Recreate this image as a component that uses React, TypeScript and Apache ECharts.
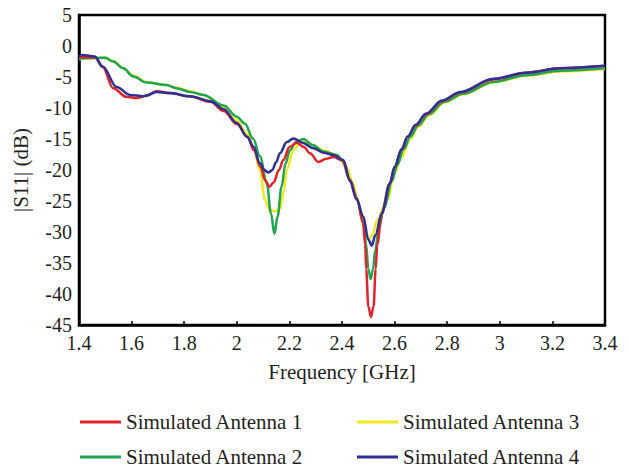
import React, { useEffect, useRef } from "react";
import * as echarts from "echarts";

// Frequency axis (GHz) and |S11| axis (dB)
const X_MIN = 1.4;
const X_MAX = 3.4;
const X_STEP = 0.2;
const Y_MIN = -45;
const Y_MAX = 5;
const Y_STEP = 5;

const names = [
  "Simulated Antenna 1",
  "Simulated Antenna 2",
  "Simulated Antenna 3",
  "Simulated Antenna 4",
];

// [frequency GHz, |S11| dB]
const antenna1: number[][] = [
  [1.40, -1.8], [1.46, -1.8], [1.49, -3.4], [1.53, -6.8], [1.58, -8.2], [1.62, -8.4],
  [1.66, -8.0], [1.695, -7.3], [1.75, -7.6], [1.82, -8.1], [1.90, -9.0], [1.95, -10.5],
  [2.00, -12.6], [2.04, -14.6], [2.065, -16.8], [2.09, -19.5], [2.107, -21.6], [2.124, -22.7],
  [2.14, -22.0], [2.16, -20.0], [2.177, -18.4], [2.20, -16.3], [2.228, -15.6], [2.255, -16.3],
  [2.278, -17.3], [2.31, -18.7], [2.34, -18.2], [2.367, -17.9], [2.40, -18.4], [2.43, -21.6],
  [2.456, -24.5], [2.48, -28.5], [2.488, -32], [2.492, -36], [2.50, -42], [2.51, -43.7],
  [2.52, -42], [2.528, -36], [2.534, -32], [2.551, -27], [2.58, -22.3], [2.60, -19.5],
  [2.625, -16.8], [2.65, -14.6], [2.68, -12.8], [2.72, -11.0], [2.78, -8.9], [2.85, -7.5],
  [2.975, -5.4], [3.10, -4.3], [3.23, -3.6], [3.40, -3.2],
];

const antenna2: number[][] = [
  [1.40, -2.0], [1.50, -1.9], [1.53, -2.5], [1.568, -3.6], [1.606, -4.9], [1.657, -5.9],
  [1.733, -6.3], [1.77, -6.8], [1.822, -7.4], [1.873, -7.9], [1.95, -9.6], [2.00, -11.4],
  [2.03, -12.5], [2.063, -15.0], [2.088, -17.8], [2.114, -22.1], [2.13, -27], [2.143, -30.3],
  [2.155, -27.5], [2.17, -22.7], [2.185, -19], [2.202, -16.8], [2.225, -15.5], [2.253, -15.0],
  [2.29, -16.0], [2.329, -17.0], [2.38, -17.6], [2.405, -18.6], [2.43, -21.5], [2.456, -24.5],
  [2.48, -28.2], [2.492, -32], [2.50, -36], [2.509, -37.6], [2.518, -36], [2.526, -33],
  [2.54, -29.5], [2.56, -26], [2.59, -21.8], [2.61, -19.2], [2.635, -16.6], [2.66, -14.6],
  [2.69, -12.8], [2.73, -11.0], [2.79, -9.0], [2.86, -7.7], [2.975, -5.8], [3.10, -4.7],
  [3.23, -4.0], [3.40, -3.6],
];

const antenna3: number[][] = [
  [1.40, -2.1], [1.50, -1.9], [1.53, -2.4], [1.568, -3.6], [1.606, -4.8], [1.657, -5.8],
  [1.733, -6.3], [1.77, -6.7], [1.822, -7.3], [1.873, -7.9], [1.95, -9.9], [2.00, -12.0],
  [2.04, -14.2], [2.063, -16.3], [2.088, -20.0], [2.107, -24.8], [2.126, -26.5], [2.145, -26.7],
  [2.164, -26.3], [2.177, -23.8], [2.19, -20.0], [2.215, -16.8], [2.247, -15.2], [2.29, -16.0],
  [2.33, -16.8], [2.38, -17.6], [2.418, -19.5], [2.44, -22], [2.46, -25], [2.48, -28.7],
  [2.49, -30.7], [2.50, -31.2], [2.515, -30.5], [2.535, -28], [2.572, -24.8], [2.60, -20.5],
  [2.625, -18.0], [2.66, -15.0], [2.69, -13.0], [2.73, -11.2], [2.79, -9.1], [2.86, -7.8],
  [2.975, -5.9], [3.10, -4.8], [3.23, -4.1], [3.40, -3.7],
];

const antenna4: number[][] = [
  [1.40, -1.7], [1.415, -1.45], [1.46, -1.7], [1.49, -3.3], [1.543, -6.6], [1.594, -7.9],
  [1.645, -8.1], [1.695, -7.4], [1.746, -7.6], [1.822, -8.1], [1.90, -8.9], [1.95, -10.2],
  [2.00, -12.4], [2.04, -14.7], [2.063, -16.2], [2.088, -18.9], [2.105, -20.0], [2.12, -20.4],
  [2.135, -20.0], [2.15, -18.7], [2.164, -17.3], [2.19, -15.5], [2.215, -14.9], [2.25, -15.6],
  [2.291, -16.5], [2.33, -17.2], [2.367, -17.6], [2.405, -18.4], [2.43, -21.8], [2.456, -24.8],
  [2.481, -27.5], [2.50, -31.2], [2.513, -32.2], [2.527, -30.5], [2.551, -27.0], [2.583, -22.1],
  [2.60, -19.5], [2.627, -16.6], [2.65, -14.6], [2.68, -12.7], [2.72, -10.9], [2.78, -8.8],
  [2.85, -7.4], [2.975, -5.3], [3.10, -4.3], [3.23, -3.6], [3.40, -3.2],
];

const colors = ["#e3232a", "#20a550", "#f2e81a", "#2e3192"];

const FONT = "Liberation Serif";
const TEXT = "#231f20";

export default function App() {
  const ref = useRef<HTMLDivElement>(null);

  useEffect(() => {
    if (!ref.current) return;
    const chart = echarts.init(ref.current, undefined, { renderer: "svg" });

    const dataSets = [antenna1, antenna2, antenna3, antenna4];
    const drawOrder = [2, 1, 0, 3];

    const legendPos = [
      { left: 80, top: 411 },
      { left: 80, top: 446 },
      { left: 357, top: 411 },
      { left: 357, top: 446 },
    ];

    const option: any = {
      animation: false,
      backgroundColor: "#ffffff",
      grid: {
        left: 79,
        right: 24,
        top: 15,
        bottom: 145,
        show: true,
        borderColor: "#000",
        borderWidth: 2.5,
        backgroundColor: "transparent",
      },
      legend: names.map((n, i) => ({
        data: [n],
        left: legendPos[i].left,
        top: legendPos[i].top,
        padding: 0,
        icon: "rect",
        itemWidth: 41,
        itemHeight: 3,
        itemGap: 6,
        selectedMode: false,
        textStyle: { fontFamily: FONT, fontSize: 21, color: TEXT, lineHeight: 22 },
      })),
      xAxis: {
        type: "value",
        min: X_MIN,
        max: X_MAX,
        interval: X_STEP,
        name: "Frequency [GHz]",
        nameLocation: "middle",
        nameGap: 36,
        nameTextStyle: { fontFamily: FONT, fontSize: 21, color: TEXT },
        axisLine: { show: true, onZero: false, lineStyle: { color: "#000", width: 2.5 } },
        axisTick: { show: true, inside: true, length: 4, lineStyle: { color: "#000", width: 1.5 } },
        axisLabel: {
          margin: 8,
          fontFamily: FONT,
          fontSize: 20,
          color: TEXT,
          showMaxLabel: true,
          showMinLabel: true,
          formatter: (v: number) => String(Number(v.toFixed(1))),
        },
        splitLine: { show: false },
      },
      yAxis: {
        type: "value",
        min: Y_MIN,
        max: Y_MAX,
        interval: Y_STEP,
        name: "|S11| (dB)",
        nameLocation: "middle",
        nameGap: 48,
        nameTextStyle: { fontFamily: FONT, fontSize: 21, color: TEXT },
        axisLine: { show: true, onZero: false, lineStyle: { color: "#000", width: 2.5 } },
        axisTick: { show: false },
        axisLabel: {
          margin: 7,
          fontFamily: FONT,
          fontSize: 20,
          color: TEXT,
          formatter: (v: number) => String(Math.round(v)),
        },
        splitLine: { show: false },
      },
      series: drawOrder.map((i) => ({
        name: names[i],
        type: "line",
        data: dataSets[i],
        showSymbol: false,
        symbol: "none",
        smooth: 0.35,
        smoothMonotone: "x",
        color: colors[i],
        lineStyle: { color: colors[i], width: 2.5 },
        emphasis: { disabled: true },
      })),
    };

    chart.setOption(option);
    return () => {
      chart.dispose();
    };
  }, []);

  return (
    <div
      ref={ref}
      style={{ position: "fixed", left: 0, top: 0, width: 629, height: 470, background: "#fff" }}
    />
  );
}
